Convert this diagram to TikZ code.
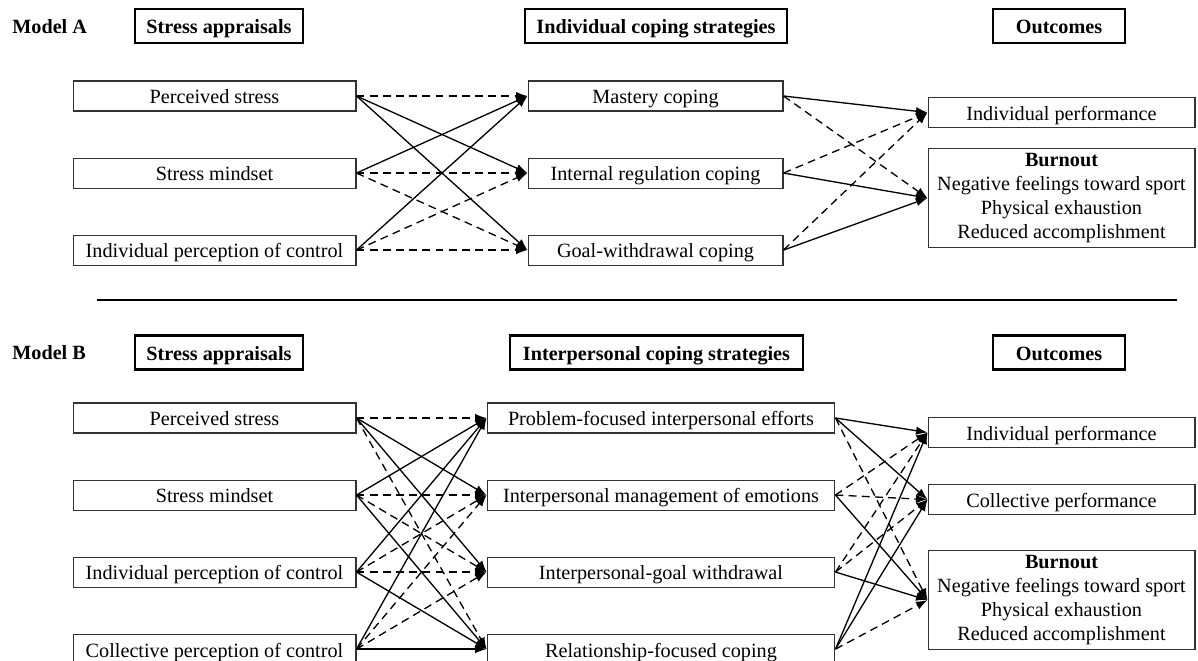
\documentclass[tikz,border=0pt]{standalone}
\usepackage{fontspec}
\setmainfont{Liberation Serif}
\usetikzlibrary{arrows.meta, positioning}

\begin{document}
\begin{tikzpicture}[
    x=0.02cm, y=-0.02cm,
    node distance=0.92cm and 2cm,
    block/.style={rectangle, draw=black!80, line width=0.6pt, minimum height=0.6cm, inner sep=2pt, align=center, text height=9pt, text depth=0pt, font=\fontsize{11.5}{13.6}\selectfont},
    burn/.style={block, text height=, text depth=, minimum height=1.98cm},
    head/.style={rectangle, draw, line width=1.6pt, minimum height=0.68cm, text height=9pt, text depth=0pt, font=\fontsize{11.5}{13.6}\selectfont\bfseries},
    modeltag/.style={anchor=west, inner sep=0pt, font=\fontsize{11.5}{13.6}\selectfont\bfseries},
    arrow/.style={draw, -{Latex[length=2.3mm, width=1.7mm]}, line width=0.75pt},
    darrow/.style={arrow, dash pattern=on 4.5pt off 3pt}
]
\useasboundingbox (0,0) rectangle (1198,661);

% Model A
\node[modeltag] (modelA) at (12,27) {Model A};
\node[head, minimum width=3.36cm] (appA) at (219,26) {Stress appraisals};
\node[head, minimum width=5.24cm] (copA) at (656,26) {Individual coping strategies};
\node[head, minimum width=2.64cm] (outA) at (1059,26) {Outcomes};

\node[block, minimum width=5.66cm] (psA) at (214.5,96) {Perceived stress};
\node[block, minimum width=5.66cm, below=of psA] (smA) {Stress mindset};
\node[block, minimum width=5.66cm, below=of smA] (ipcA) {Individual perception of control};

\node[block, minimum width=5.1cm] (masA) at (655.5,96) {Mastery coping};
\node[block, minimum width=5.1cm, below=of masA] (irA) {Internal regulation coping};
\node[block, minimum width=5.1cm, below=of irA] (gwA) {Goal-withdrawal coping};

\node[block, minimum width=5.34cm] (ipA) at (1061.5,112.5) {Individual performance};
\node[burn, minimum width=5.34cm, below=0.4cm of ipA] (boA) {\textbf{Burnout}\\Negative feelings toward sport\\Physical exhaustion\\Reduced accomplishment};

\path (psA.east) edge[darrow] (masA.west) edge[arrow] (irA.west) edge[arrow] (gwA.west);
\path (smA.east) edge[arrow] (masA.west) edge[darrow] (irA.west) edge[darrow] (gwA.west);
\path (ipcA.east) edge[arrow] (masA.west) edge[darrow] (irA.west) edge[darrow] (gwA.west);

\path (masA.east) edge[arrow] (ipA.west) edge[darrow] (boA.west);
\path (irA.east) edge[darrow] (ipA.west) edge[arrow] (boA.west);
\path (gwA.east) edge[darrow] (ipA.west) edge[arrow] (boA.west);

\draw[line width=0.8pt] (97,300) -- (1177,300);

% Model B
\node[modeltag] (modelB) at (12,353) {Model B};
\node[head, minimum width=3.36cm] (appB) at (219,352.5) {Stress appraisals};
\node[head, minimum width=5.86cm] (copB) at (656.5,352.5) {Interpersonal coping strategies};
\node[head, minimum width=2.64cm] (outB) at (1059,352.5) {Outcomes};

\node[block, minimum width=5.66cm] (psB) at (214.5,418) {Perceived stress};
\node[block, minimum width=5.66cm, below=of psB] (smB) {Stress mindset};
\node[block, minimum width=5.66cm, below=of smB] (ipcB) {Individual perception of control};
\node[block, minimum width=5.66cm, below=of ipcB] (cpcB) {Collective perception of control};

\node[block, minimum width=6.96cm] (pfB) at (661,418) {Problem-focused interpersonal efforts};
\node[block, minimum width=6.96cm, below=of pfB] (imB) {Interpersonal management of emotions};
\node[block, minimum width=6.96cm, below=of imB] (igB) {Interpersonal-goal withdrawal};
\node[block, minimum width=6.96cm, below=of igB] (rfB) {Relationship-focused coping};

\node[block, minimum width=5.34cm] (ipB) at (1061.5,432.5) {Individual performance};
\node[block, minimum width=5.34cm, below=0.72cm of ipB] (cpB) {Collective performance};
\node[burn, minimum width=5.34cm, below=0.7cm of cpB] (boB) {\textbf{Burnout}\\Negative feelings toward sport\\Physical exhaustion\\Reduced accomplishment};

\path (psB.east) edge[darrow] (pfB.west) edge[arrow] (imB.west) edge[arrow] (igB.west) edge[darrow] (rfB.west);
\path (smB.east) edge[arrow] (pfB.west) edge[darrow] (imB.west) edge[darrow] (igB.west) edge[arrow] (rfB.west);
\path (ipcB.east) edge[arrow] (pfB.west) edge[darrow] (imB.west) edge[darrow] (igB.west) edge[arrow] (rfB.west);
\path (cpcB.east) edge[arrow] (pfB.west) edge[darrow] (imB.west) edge[darrow] (igB.west) edge[arrow] (rfB.west);

\path (pfB.east) edge[arrow] (ipB.west) edge[arrow] (cpB.west) edge[darrow] (boB.west);
\path (imB.east) edge[darrow] (ipB.west) edge[darrow] (cpB.west) edge[arrow] (boB.west);
\path (igB.east) edge[darrow] (ipB.west) edge[darrow] (cpB.west) edge[arrow] (boB.west);
\path (rfB.east) edge[arrow] (ipB.west) edge[arrow] (cpB.west) edge[darrow] (boB.west);
\end{tikzpicture}
\end{document}
